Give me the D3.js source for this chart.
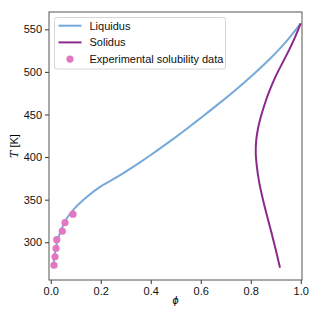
<!DOCTYPE html>
<html lang="en">
<head>
<meta charset="UTF-8">
<title>Phase diagram</title>
<script src="https://d3js.org/d3.v7.min.js"></script>
<style>
  body { margin: 0; background: #fff; }
  text { font-family: "Liberation Sans", Arial, sans-serif; }
</style>
</head>
<body>
<svg width="320" height="320"></svg>
<script>
// liquidus curve (phi, T)
let liqPhi = [0.010, 0.016, 0.025, 0.040, 0.060, 0.090, 0.144, 0.197, 0.250, 0.300, 0.357, 0.400, 0.450, 0.510, 0.560, 0.610, 0.680, 0.744, 0.810, 0.877, 0.940, 1.0]
let liqT   = [271, 285, 300, 313, 326, 338, 353, 365, 374, 383, 393.8, 402.4, 412.8, 425.7, 436.8, 448.2, 464.5, 480, 497, 515.5, 535, 557]
// solidus curve
let solPhi = [0.917, 0.901, 0.884, 0.866, 0.849, 0.834, 0.824, 0.820, 0.822, 0.830, 0.843, 0.859, 0.878, 0.900, 0.926, 0.952, 0.976, 1.0]
let solT   = [270, 290, 310, 330, 350, 370, 390, 405, 420, 435, 450, 465, 480, 495, 510, 525, 540, 557]
// experimental points
let expPhi = [0.013, 0.017, 0.021, 0.024, 0.046, 0.057, 0.089]
let expT   = [273, 283, 293, 303, 313, 323, 333]

let xTicks = [0, 0.2, 0.4, 0.6, 0.8, 1.0]
let yTicks = [300, 350, 400, 450, 500, 550]

let mLeft = 49, mRight = 302, mTop = 12, mBottom = 280
let svg = d3.select('svg')

let x = d3.scaleLinear().domain([-0.007, 1.005]).range([mLeft, mRight])
let y = d3.scaleLinear().domain([255.7, 570.3]).range([mBottom, mTop])

let line = d3.line()
    .x(d => x(d[0]))
    .y(d => y(d[1]))
    .curve(d3.curveCatmullRom.alpha(0.5))

svg.append('path')
    .datum(d3.zip(liqPhi, liqT))
    .attr('d', line)
    .attr('fill', 'none')
    .attr('stroke', '#76a9d9')
    .attr('stroke-width', 2)

svg.append('path')
    .datum(d3.zip(solPhi, solT))
    .attr('d', line)
    .attr('fill', 'none')
    .attr('stroke', '#8b2a8c')
    .attr('stroke-width', 2)

svg.selectAll('circle.exp')
    .data(d3.zip(expPhi, expT))
    .join('circle')
    .classed('exp', true)
    .attr('cx', d => x(d[0]))
    .attr('cy', d => y(d[1]))
    .attr('r', 3.6)
    .attr('fill', '#e377c2')

// axes
let xAxis = svg.append('g')
    .attr('transform', `translate(0,${mBottom})`)
    .call(d3.axisBottom(x).tickValues(xTicks).tickFormat(d3.format('.1f')).tickSize(4).tickPadding(3))
let yAxis = svg.append('g')
    .attr('transform', `translate(${mLeft},0)`)
    .call(d3.axisLeft(y).tickValues(yTicks).tickSize(4).tickPadding(3))

for (let ax of [xAxis, yAxis]) {
    ax.select('.domain').remove()
    ax.selectAll('text').attr('font-size', 11).attr('fill', '#111')
    ax.selectAll('line').attr('stroke', '#333')
}

svg.append('rect')
    .attr('x', mLeft).attr('y', mTop)
    .attr('width', mRight - mLeft).attr('height', mBottom - mTop)
    .attr('fill', 'none')
    .attr('stroke', '#555')
    .attr('stroke-width', 1)

// axis labels
svg.append('text')
    .attr('x', (mLeft + mRight) / 2).attr('y', 304)
    .attr('text-anchor', 'middle')
    .attr('font-size', 11)
    .attr('font-family', 'DejaVu Serif')
    .attr('font-style', 'italic')
    .text('ϕ')

let yl = svg.append('text')
    .attr('transform', `translate(18,${(mTop + mBottom) / 2}) rotate(-90)`)
    .attr('text-anchor', 'middle')
    .attr('font-size', 11)
yl.append('tspan').attr('font-family', 'DejaVu Serif').attr('font-style', 'italic').text('T')
yl.append('tspan').text(' [K]')

// legend
let lg = svg.append('g')
lg.append('rect')
    .attr('x', 54.5).attr('y', 17.5)
    .attr('width', 171).attr('height', 51.5)
    .attr('rx', 2)
    .attr('fill', 'white').attr('fill-opacity', 0.8)
    .attr('stroke', '#d6d6d6')

let entries = [
    {label: 'Liquidus', kind: 'line', color: '#76a9d9'},
    {label: 'Solidus', kind: 'line', color: '#8b2a8c'},
    {label: 'Experimental solubility data', kind: 'dot', color: '#e377c2'}
]
entries.forEach((e, i) => {
    let cy = 25.7 + i * 16.7
    if (e.kind == 'line') {
        lg.append('line')
            .attr('x1', 58.5).attr('x2', 81.5)
            .attr('y1', cy).attr('y2', cy)
            .attr('stroke', e.color).attr('stroke-width', 2)
    } else {
        lg.append('circle')
            .attr('cx', 70).attr('cy', cy)
            .attr('r', 3.6).attr('fill', e.color)
    }
    lg.append('text')
        .attr('x', 89.5).attr('y', cy + 4)
        .attr('font-size', 11)
        .attr('fill', '#111')
        .text(e.label)
})
</script>
</body>
</html>
